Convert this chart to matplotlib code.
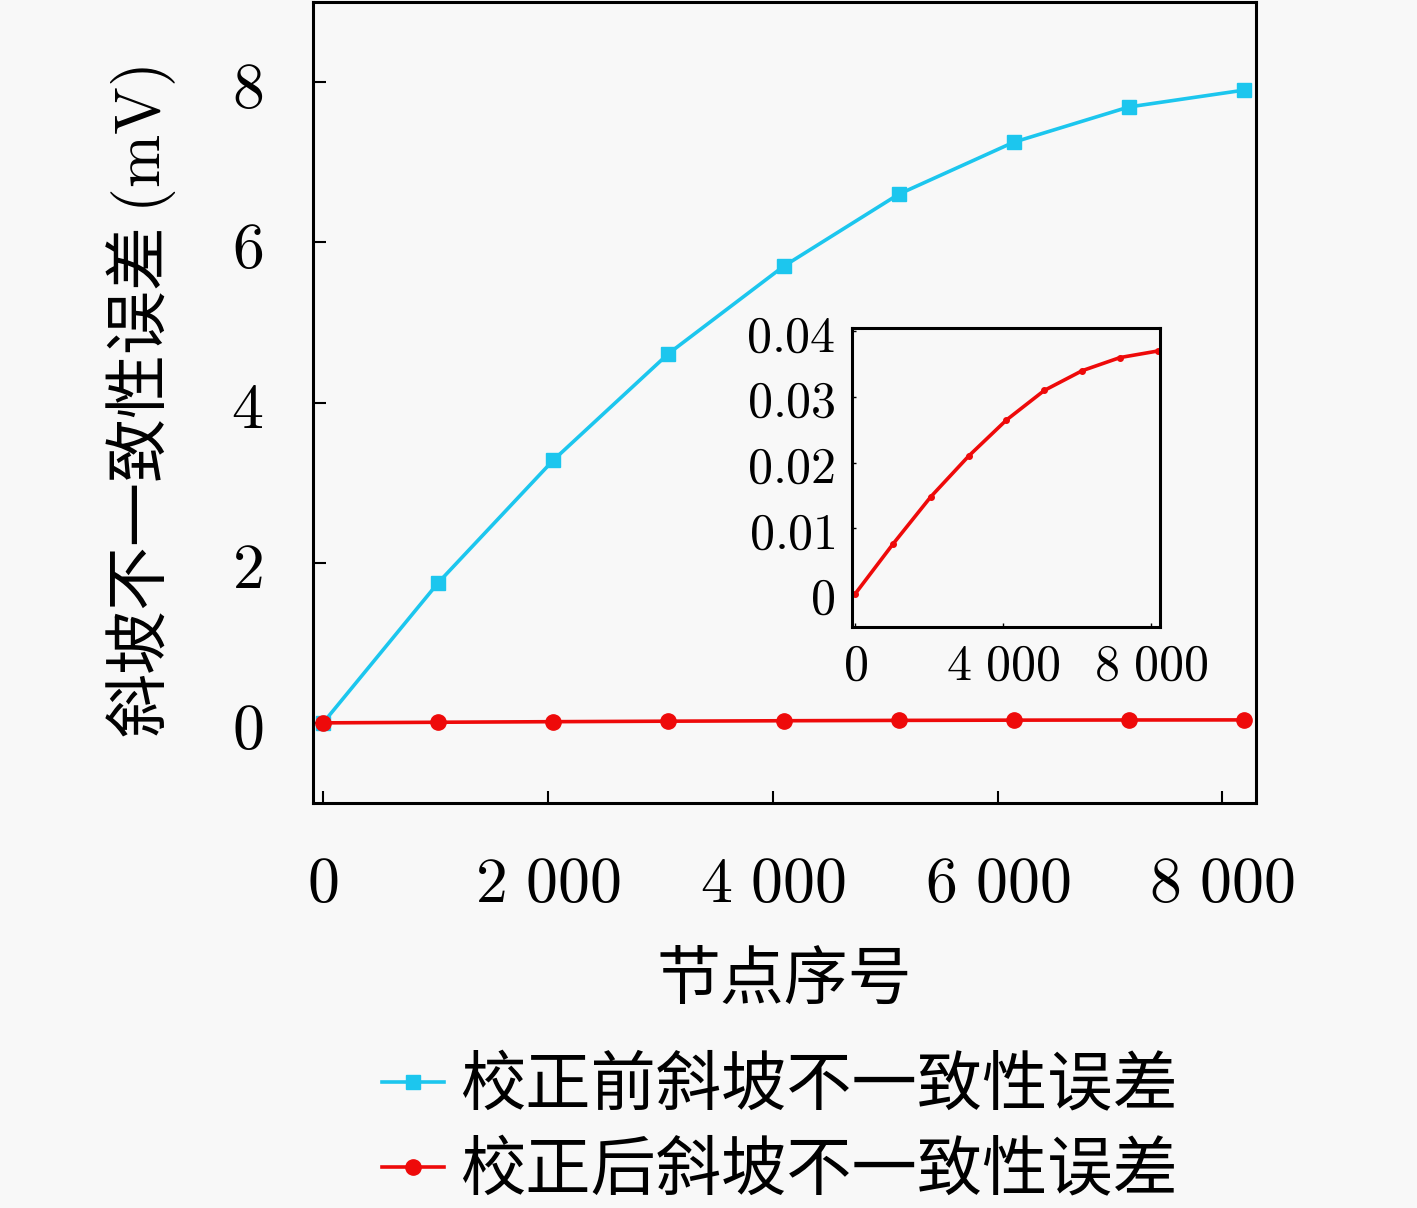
import matplotlib
matplotlib.use('Agg')
import matplotlib.pyplot as plt
from matplotlib.ticker import FuncFormatter

# 节点序号 / 斜坡不一致性误差 (mV)
nodes = [0, 1024, 2048, 3072, 4096, 5120, 6144, 7168, 8192]
err_before = [0.0, 1.75, 3.28, 4.61, 5.70, 6.60, 7.25, 7.69, 7.90]
err_after = [0.0, 0.0076, 0.0148, 0.0210, 0.0265, 0.0310, 0.0340, 0.0360, 0.0370]

main_xticks = [0, 2000, 4000, 6000, 8000]
main_yticks = [0, 2, 4, 6, 8]
inset_xticks = [0, 4000, 8000]
inset_yticks = [0, 0.01, 0.02, 0.03, 0.04]

label_x = '节点序号'
label_y = '斜坡不一致性误差 $(\\mathrm{mV})$'
label_before = '校正前斜坡不一致性误差'
label_after = '校正后斜坡不一致性误差'

plt.rcParams['font.family'] = ['Noto Sans CJK SC', 'DejaVu Sans']
plt.rcParams['mathtext.fontset'] = 'cm'
plt.rcParams['axes.unicode_minus'] = False

BG = '#f8f8f8'
BLUE = '#1cc6ee'
RED = '#ee0a0a'


def fmt_int(v, pos=None):
    n = int(round(v))
    if n == 0:
        return '$0$'
    s = f'{n:,}'.replace(',', '\\ ')
    return f'${s}$'


def fmt_dec(v, pos=None):
    if abs(v) < 1e-9:
        return '$0$'
    return f'${v:.2f}$'


def fmt_plain(v, pos=None):
    return f'${int(round(v))}$'


fig = plt.figure(figsize=(14.17, 12.08), dpi=100, facecolor=BG)
ax = fig.add_axes([0.2209, 0.3353, 0.6655, 0.663], facecolor=BG)

ax.plot(nodes, err_before, color=BLUE, lw=2.6, marker='s', ms=10, label=label_before)
ax.plot(nodes, err_after, color=RED, lw=2.6, marker='o', ms=11, label=label_after)

ax.set_xlim(-90, 8300)
ax.set_ylim(-1, 9)
ax.set_xticks(main_xticks)
ax.set_yticks(main_yticks)
ax.xaxis.set_major_formatter(FuncFormatter(fmt_int))
ax.yaxis.set_major_formatter(FuncFormatter(fmt_plain))
ax.tick_params(direction='in', length=9, width=1.5, labelsize=46)
ax.tick_params(axis='x', pad=34)
ax.tick_params(axis='y', pad=36)
for sp in ax.spines.values():
    sp.set_linewidth(2.2)

ax.set_xlabel(label_x, fontsize=46, labelpad=22)
ax.set_ylabel(label_y, fontsize=46, labelpad=38)

# 局部放大
ins = fig.add_axes([0.6013, 0.481, 0.2174, 0.2475], facecolor=BG)
ins.plot(nodes, err_after, color=RED, lw=2.6, marker='o', ms=4)
ins.set_xlim(-80, 8250)
ins.set_ylim(-0.005, 0.0405)
ins.set_xticks(inset_xticks)
ins.set_yticks(inset_yticks)
ins.xaxis.set_major_formatter(FuncFormatter(fmt_int))
ins.yaxis.set_major_formatter(FuncFormatter(fmt_dec))
ins.tick_params(direction='in', length=3, width=1, labelsize=36, pad=12)
ins.tick_params(axis='x', pad=9)
for sp in ins.spines.values():
    sp.set_linewidth(2.2)

fig.legend(loc='center', bbox_to_anchor=(0.5505, 0.0650), frameon=False,
           fontsize=47, handlelength=0.95, handletextpad=0.25, labelspacing=0.28,
           borderpad=0.2)

fig.savefig('out.png', dpi=100, facecolor=BG)
